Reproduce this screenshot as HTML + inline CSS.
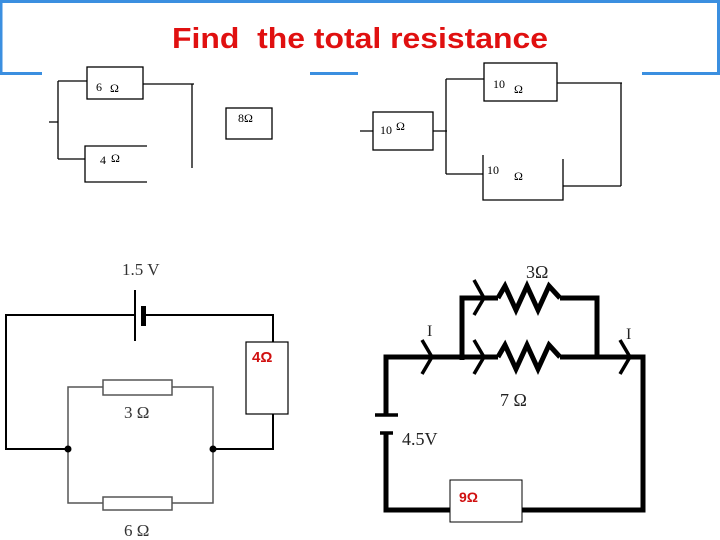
<!DOCTYPE html>
<html><head><meta charset="utf-8"><style>
body{margin:0;width:720px;height:540px;background:#fff;overflow:hidden}
svg{display:block}
</style></head><body>
<svg width="720" height="540" viewBox="0 0 720 540" xmlns="http://www.w3.org/2000/svg">
<g stroke="#3b8fe0" stroke-width="3" fill="none">
<path d="M1 74 V1.5 H718.5 V74"/>
<path d="M0 73.5 H42 M310 73.5 H358 M642 73.5 H720"/>
</g>
<text x="172" y="48" textLength="376" lengthAdjust="spacingAndGlyphs" font-family="Liberation Sans, sans-serif" font-weight="bold" font-size="29" fill="#e01010">Find&#160; the total resistance</text>

<g stroke="#000" stroke-width="1.3" fill="none">
<rect x="87" y="67" width="56" height="32"/>
<path d="M147 146 H85 V182 H147"/>
<path d="M49 122 H58 M58 81 V159 M58 81 H87 M58 159 H85 M143 84 H194 M192 84 V168"/>
<rect x="226" y="108" width="46" height="31"/>
<rect x="373" y="112" width="60" height="38"/>
<path d="M360 131 H373 M433 131 H447 M446 79 V174 M446 79 H484 M446 174 H483"/>
<rect x="484" y="63" width="73" height="38"/>
<path d="M557 83 H622 M621 83 V186 M563 186 H621 M483 155 V200 H563 V159"/>
</g>
<g font-family="Liberation Serif, serif" font-size="12" fill="#000">
<text x="96" y="91">6</text><text x="110" y="92">Ω</text>
<text x="100" y="164">4</text><text x="111" y="162">Ω</text>
<text x="238" y="122">8Ω</text>
<text x="380" y="134">10</text><text x="396" y="130">Ω</text>
<text x="493" y="88">10</text><text x="514" y="93">Ω</text>
<text x="487" y="174">10</text><text x="514" y="180">Ω</text>
</g>

<g stroke="#000" stroke-width="2" fill="none">
<path d="M135 315 H6 V449 H68 M144 315 H273 V342 M273 414 V449 H213"/>
<path d="M135 290 V341"/>
</g>
<rect x="141" y="306" width="5" height="20" fill="#000"/>
<g stroke="#555" stroke-width="1.5" fill="none">
<path d="M68 449 V387 H103 M172 387 H213 V503 H172 M103 503 H68 V449"/>
<rect x="103" y="380" width="69" height="15" fill="#fff"/>
<rect x="103" y="497" width="69" height="13" fill="#fff"/>
</g>
<circle cx="68" cy="449" r="3.5" fill="#000"/><circle cx="213" cy="449" r="3.5" fill="#000"/>
<rect x="246" y="342" width="42" height="72" fill="#fff" stroke="#000" stroke-width="1.2"/>
<g font-family="Liberation Serif, serif" fill="#333" font-size="17">
<text x="122" y="275">1.5 V</text>
<text x="124" y="418">3 Ω</text>
<text x="124" y="536">6 Ω</text>
</g>
<text x="252" y="362" font-family="Liberation Sans, sans-serif" font-weight="bold" font-size="15" fill="#d01010">4Ω</text>

<g stroke="#000" stroke-width="5" fill="none">
<path d="M386 415 V357 H498 M560 357 H643 V510 H522 M450 510 H386 V433"/>
<path d="M462 360 V298 H498 M560 298 H597 V357"/>
<path d="M498 298 L505 286 L516 310 L527 286 L538 310 L549 286 L560 298"/>
<path d="M498 357 L505 345 L516 369 L527 345 L538 369 L549 345 L560 357"/>
</g>
<g stroke="#000" stroke-width="3.5" fill="none">
<path d="M422 340 L432 357 L422 374"/>
<path d="M474 280 L484 298 L474 315"/>
<path d="M474 340 L484 357 L474 374"/>
<path d="M620 340 L630 357 L620 374"/>
<path d="M375 415 H398 M380 433 H393"/>
</g>
<rect x="450" y="480" width="72" height="42" fill="#fff" stroke="#000" stroke-width="1"/>
<g font-family="Liberation Serif, serif" fill="#222" font-size="18">
<text x="526" y="278">3Ω</text>
<text x="500" y="406">7 Ω</text>
<text x="427" y="336" font-size="16">I</text>
<text x="626" y="339" font-size="16">I</text>
<text x="402" y="445">4.5V</text>
</g>
<text x="459" y="502" font-family="Liberation Sans, sans-serif" font-weight="bold" font-size="14" fill="#d01010">9Ω</text>
</svg>
</body></html>
